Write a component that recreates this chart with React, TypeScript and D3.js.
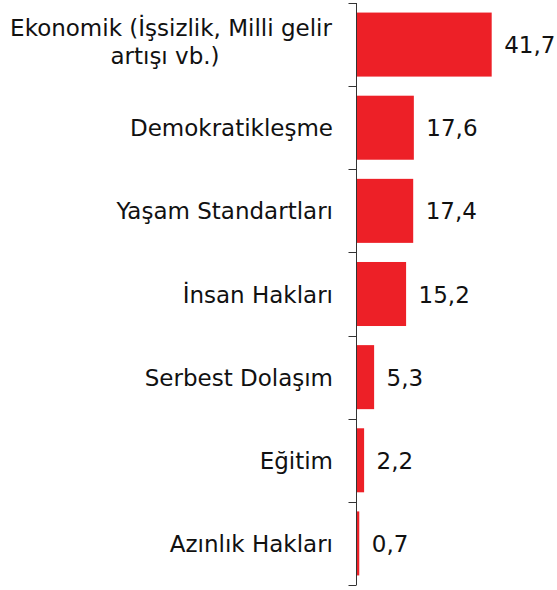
import { useRef, useEffect } from 'react'
import * as d3 from 'd3'

const categories: string[][] = [
  ['Ekonomik (İşsizlik, Milli gelir', 'artışı vb.)'],
  ['Demokratikleşme'],
  ['Yaşam Standartları'],
  ['İnsan Hakları'],
  ['Serbest Dolaşım'],
  ['Eğitim'],
  ['Azınlık Hakları'],
]
const values: number[] = [41.7, 17.6, 17.4, 15.2, 5.3, 2.2, 0.7]

export default function App() {
  const svgRef = useRef(null)

  const width = 557
  const height = 590
  const axisX = 356.5

  useEffect(() => {
    const svg = d3.select(svgRef.current)
    svg.selectAll('*').remove()

    const ids = categories.map((_, i) => String(i))
    const y = d3.scaleBand()
      .domain(ids)
      .range([3, 585])
      .paddingInner(0.23)
      .paddingOuter(0.115)

    const x = d3.scaleLinear().domain([0, 45]).range([axisX, axisX + 45 * 3.23])

    // bars
    svg.selectAll('rect.bar')
      .data(values)
      .enter()
      .append('rect')
      .attr('class', 'bar')
      .attr('x', x(0) + 0.5)
      .attr('y', (d, i) => y(String(i)) as number)
      .attr('width', d => x(d) - x(0))
      .attr('height', y.bandwidth())
      .attr('fill', '#ED2027')

    // axis line + ticks between categories
    const g = svg.append('g')
    g.append('line')
      .attr('x1', axisX).attr('x2', axisX)
      .attr('y1', 3).attr('y2', 585)
      .attr('stroke', '#333').attr('stroke-width', 1)
    d3.range(categories.length + 1).forEach(i => {
      const ty = Math.round(3 + i * (582 / categories.length)) + 0.5
      g.append('line')
        .attr('x1', axisX - 8).attr('x2', axisX)
        .attr('y1', ty).attr('y2', ty)
        .attr('stroke', '#333').attr('stroke-width', 1)
    })

    // category labels
    const font = '"DejaVu Sans", Verdana, sans-serif'
    const fs = 23
    categories.forEach((lines, i) => {
      const cy = (y(String(i)) as number) + y.bandwidth() / 2
      const t = svg.append('text')
        .attr('font-family', font)
        .attr('font-size', fs)
        .attr('fill', '#111')
      if (lines.length === 1) {
        t.append('tspan')
          .attr('text-anchor', 'end')
          .attr('x', 333)
          .attr('y', cy + 8.5)
          .text(lines[0])
      } else {
        const centers = [171, 165]
        lines.forEach((l, j) => {
          t.append('tspan')
            .attr('text-anchor', 'middle')
            .attr('x', centers[j])
            .attr('y', cy - 8.5 + j * 27.5)
            .text(l)
        })
      }
    })

    // value labels
    svg.selectAll('text.val')
      .data(values)
      .enter()
      .append('text')
      .attr('class', 'val')
      .attr('x', d => x(d) + 13)
      .attr('y', (d, i) => (y(String(i)) as number) + y.bandwidth() / 2 + 8.5)
      .attr('font-family', font)
      .attr('font-size', fs)
      .attr('fill', '#111')
      .text(d => d3.format('.1f')(d).replace('.', ','))
  }, [])

  return (
    <svg ref={svgRef} width={width} height={height}
      style={{ position: 'absolute', left: 0, top: 0, background: '#fff' }} />
  )
}
